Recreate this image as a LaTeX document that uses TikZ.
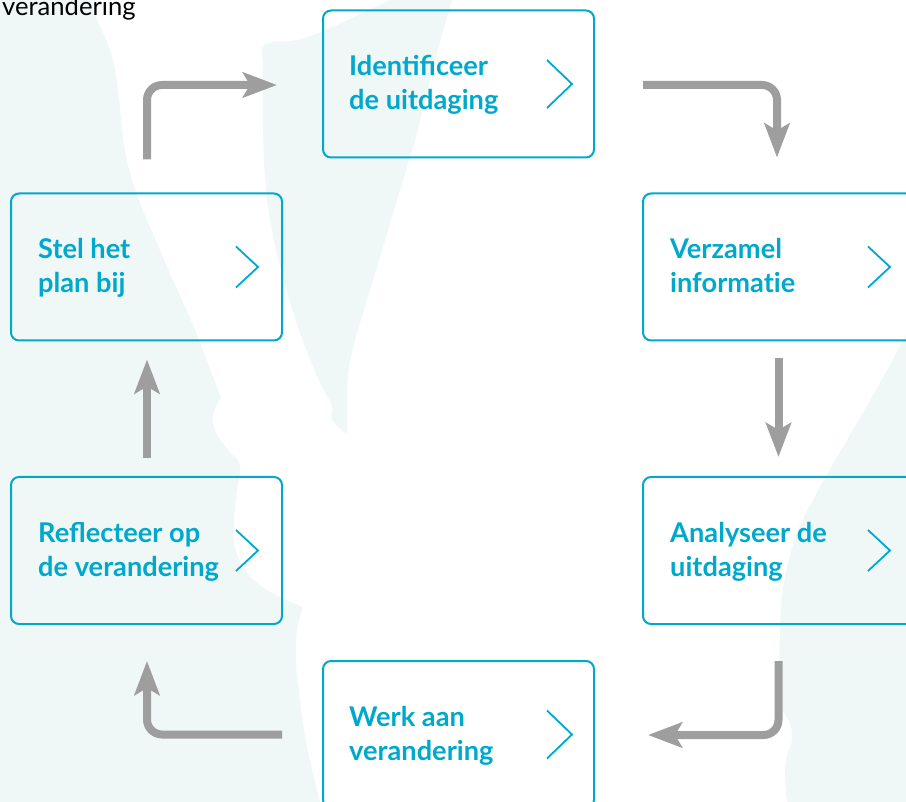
\documentclass[tikz,border=0pt]{standalone}
\usepackage{fontspec}
\setmainfont{Lato}
\usetikzlibrary{arrows.meta,calc}
\definecolor{tealc}{RGB}{0,169,204}
\definecolor{pale}{RGB}{239,247,247}
\definecolor{arrowgray}{RGB}{158,158,158}
\begin{document}
\begin{tikzpicture}[x=1pt,y=-1pt,
  stepbox/.style={draw=tealc, line width=2pt, rounded corners=8pt, minimum width=271pt, minimum height=147pt, inner sep=0pt},
  steptext/.style={text=tealc, font=\fontsize{27.2}{34}\selectfont\bfseries, align=left, inner sep=0pt, anchor=west},
  chev/.style={draw=tealc, line width=1.8pt},
  flow/.style={draw=arrowgray, line width=8pt, rounded corners=15pt, -{Stealth[length=34pt,width=25pt,inset=7pt]}},
]
\useasboundingbox (0,0) rectangle (906,802);
% background shapes
\fill[pale] (0,0) -- plot[smooth,tension=0.6] coordinates {(92,0)(97,20)(104,35)(113,60)(118,90)(125,150)(137,195)(165,262)(195,330)(221,398)}
  -- plot[smooth,tension=0.6] coordinates {(221,398)(213,415)(216,433)(229,451)(240,465)(237,490)(234,520)(235,548)(248,574)(272,593)(303,607)}
  -- plot[smooth,tension=0.6] coordinates {(303,607)(297,630)(296,663)(300,700)(307,747)(320,802)}
  -- (0,802) -- cycle;
\fill[pale] plot[smooth,tension=0.5] coordinates {(263,60)(263,133)(267,200)(280,267)(300,333)(320,383)(332,405)(332,420)(347,434)}
  -- plot[smooth,tension=0.5] coordinates {(347,434)(347,400)(349,367)(357,333)(377,267)(397,200)(417,133)(433,67)(452,0)}
  -- (390,0) -- plot[smooth,tension=0.6] coordinates {(390,0)(330,28)(297,40)(272,42)(262,48)(263,60)} -- cycle;
\fill[pale] (906,335) -- plot[smooth,tension=0.6] coordinates {(906,335)(880,383)(847,440)(820,487)(797,533)(784,583)(780,633)(780,700)(790,723)(792,740)(787,755)(785,775)(787,802)} -- (906,802) -- cycle;
% clipped title remnant
\node[anchor=base west, inner sep=0pt, font=\fontsize{25.6}{30}\selectfont, text=black] (title) at (2,16) {verandering};
% boxes
\node[stepbox] (b1) at (458.5,84) {};
\node[stepbox] (b2) at (778.5,267) {};
\node[stepbox] (b3) at (778.5,550.5) {};
\node[stepbox] (b4) at (458.5,734.5) {};
\node[stepbox] (b5) at (146.5,550.5) {};
\node[stepbox] (b6) at (146.5,267) {};
% texts
\node[steptext] (t1) at ([xshift=27pt,yshift=-1pt]b1.west) {\vphantom{Idfg}Iden\kern0pt tificeer\\\vphantom{Idfg}de uitdaging};
\node[steptext] (t2) at ([xshift=28pt,yshift=-1pt]b2.west) {\vphantom{Idfg}Verzamel\\\vphantom{Idfg}informat\kern0pt ie};
\node[steptext] (t3) at ([xshift=28pt,yshift=-1pt]b3.west) {\vphantom{Idfg}Analyseer de\\\vphantom{Idfg}uitdaging};
\node[steptext] (t4) at ([xshift=27pt,yshift=-1pt]b4.west) {\vphantom{Idfg}Werk aan\\\vphantom{Idfg}verandering};
\node[steptext] (t5) at ([xshift=28pt,yshift=-1pt]b5.west) {\vphantom{Idfg}Reflecteer op\\\vphantom{Idfg}de verandering};
\node[steptext] (t6) at ([xshift=28pt,yshift=-1pt]b6.west) {\vphantom{Idfg}Stel het\\\vphantom{Idfg}plan bij};
% chevrons
\draw[chev] ($(b1.west)+(225,-24)$) -- ($(b1.west)+(250,0)$) -- ($(b1.west)+(225,24)$);
\draw[chev] ($(b4.west)+(225,-24)$) -- ($(b4.west)+(250,0)$) -- ($(b4.west)+(225,24)$);
\foreach \b in {b2,b3,b5,b6}{
  \draw[chev] ($(\b.west)+(226,-20.5)$) -- ($(\b.west)+(248,0)$) -- ($(\b.west)+(226,20.5)$);
}
% connectors
\draw[flow] ($(b6.north)+(0.5,-33)$) |- ($(b1.west)+(-45,1)$);
\draw[flow] ($(b1.east)+(48,1)$) -| ($(b2.north)+(-1.5,-35)$);
\draw[flow] ($(b2.south)+(0,17)$) -- ($(b3.north)+(0,-19)$);
\draw[flow] ($(b3.south)+(0,36)$) |- ($(b4.east)+(53,0.5)$);
\draw[flow] ($(b4.west)+(-40,0)$) -| ($(b5.south)+(0.5,36)$);
\draw[flow] ($(b5.north)+(0.5,-18)$) -- ($(b6.south)+(0.5,18)$);
\end{tikzpicture}
\end{document}
